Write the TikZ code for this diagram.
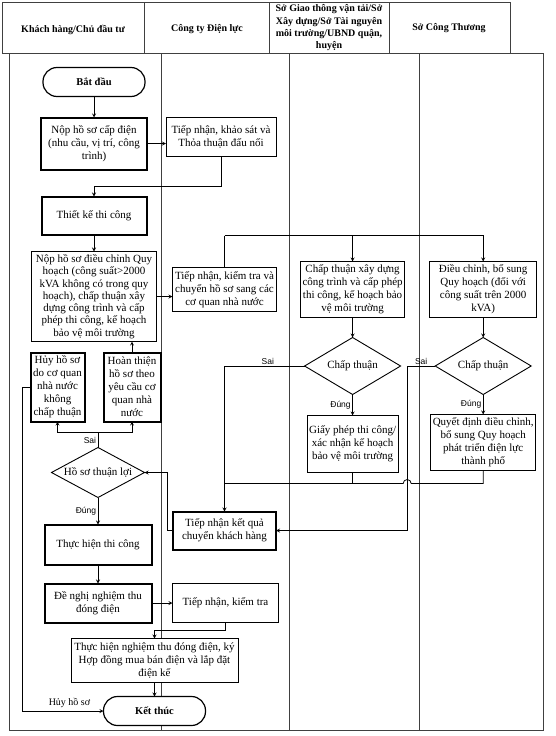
\documentclass[tikz,border=0pt]{standalone}
\usepackage{fontspec}
\setmainfont{Liberation Serif}
\newfontfamily\labelfont{Liberation Sans}
\usetikzlibrary{positioning, shapes.geometric, calc}

\begin{document}
\begin{tikzpicture}[x=1pt, y=-1pt, >=stealth,
                    every node/.style={font=\fontsize{11}{13}\selectfont},
                    stepnode/.style={rectangle, draw=black, line width=0.9pt, fill=white, align=center, inner sep=2pt, outer sep=0pt},
                    boldnode/.style={stepnode, line width=2pt},
                    endnode/.style={rectangle, rounded corners=14pt, draw=black, line width=1.2pt, fill=white, outer sep=0pt, minimum width=102pt, minimum height=29pt, font=\fontsize{10.5}{13}\selectfont\bfseries},
                    asknode/.style={diamond, aspect=1.8, draw=black, line width=0.9pt, fill=white, inner sep=0pt, outer sep=0pt},
                    headnode/.style={align=center, inner sep=0pt, font=\fontsize{10}{12.3}\selectfont\bfseries},
                    tag/.style={font=\labelfont\fontsize{8.5}{10}\selectfont, inner sep=1.5pt},
                    lane/.style={draw=black!75, line width=0.8pt},
                    flow/.style={->, line width=0.8pt}]
    \useasboundingbox (0,0) rectangle (556,736);
    % table
    \draw[lane] (2,2) rectangle (510,53);
    \foreach \x in {144,269,389} \draw[lane] (\x,2) -- (\x,53);
    \draw[lane] (9,53) rectangle (543,730);
    \foreach \x in {161,289,419} \draw[lane] (\x,53) -- (\x,730);
    \node[headnode] (head1) at (73,30)  {Khách hàng/Chủ đầu tư};
    \node[headnode] (head2) at (207,29) {Công ty Điện lực};
    \node[headnode] (head3) at (329,28) {Sở Giao thông vận tải/Sở\\Xây dựng/Sở Tài nguyên\\môi trường/UBND quận,\\huyện};
    \node[headnode] (head4) at (449,28) {Sở Công Thương};
    % nodes
    \node[endnode]                                             (start)    at (94,82)              {Bắt đầu};
    \node[boldnode, minimum width=106pt, minimum height=52pt]  (submit)   [below=21pt of start]   {Nộp hồ sơ cấp điện\\(nhu cầu, vị trí, công\\trình)};
    \node[stepnode, minimum width=110pt, minimum height=39pt]  (survey)   [right=19pt of submit.north east, anchor=north west] {Tiếp nhận, khảo sát và\\Thỏa thuận đấu nối};
    \node[boldnode, minimum width=105pt, minimum height=38pt]  (design)   [below=27pt of submit]  {Thiết kế thi công};
    \node[stepnode, minimum width=125pt, minimum height=90pt, font=\fontsize{11}{12.3}\selectfont] (plan) [below=17pt of design] {Nộp hồ sơ điều chỉnh Quy\\hoạch (công suất>2000\\kVA không có trong quy\\hoạch), chấp thuận xây\\dựng công trình và cấp\\phép thi công, kế hoạch\\bảo vệ môi trường};
    \node[stepnode, minimum width=104pt, minimum height=44pt]  (check)    [right=16pt of plan, yshift=7pt] {Tiếp nhận, kiểm tra và\\chuyển hồ sơ sang các\\cơ quan nhà nước};
    \node[stepnode, minimum width=104pt, minimum height=56pt]  (build)    [right=24pt of check]   {Chấp thuận xây dựng\\công trình và cấp phép\\thi công, kế hoạch bảo\\vệ môi trường};
    \node[stepnode, minimum width=107pt, minimum height=56pt]  (adjust)   [right=25pt of build]   {Điều chỉnh, bổ sung\\Quy hoạch (đối với\\công suất trên 2000\\kVA)};
    \node[asknode, minimum width=96pt, minimum height=57pt]    (ok1)      [below=20pt of build]   {Chấp thuận};
    \node[asknode, minimum width=96pt, minimum height=57pt]    (ok2)      [below=20pt of adjust]  {Chấp thuận};
    \node[stepnode, minimum width=90pt, minimum height=57pt]   (permit)   [below=21pt of ok1]     {Giấy phép thi công/\\xác nhận kế hoạch\\bảo vệ môi trường};
    \node[stepnode, minimum width=105pt, minimum height=56pt]  (decide)   [below=20pt of ok2]     {Quyết định điều chỉnh,\\bổ sung Quy hoạch\\phát triển điện lực\\thành phố};
    \node[boldnode, minimum width=57pt, minimum height=69pt, inner sep=1pt] (complete) [below=11pt of plan.south east, anchor=north east, xshift=4pt] {Hoàn thiện\\hồ sơ theo\\yêu cầu cơ\\quan nhà\\nước};
    \node[boldnode, minimum width=54pt, minimum height=69pt, inner sep=1pt] (cancel) [left=19pt of complete] {Hủy hồ sơ\\do cơ quan\\nhà nước\\không\\chấp thuận};
    \node[asknode, minimum width=93pt, minimum height=50pt]    (favor)    [below=106pt of plan, xshift=4pt] {Hồ sơ thuận lợi};
    \node[boldnode, minimum width=103pt, minimum height=38pt]  (result)   [below=200pt of check]  {Tiếp nhận kết quả\\chuyển khách hàng};
    \node[boldnode, minimum width=107pt, minimum height=40pt]  (work)     [below=27pt of favor]   {Thực hiện thi công};
    \node[boldnode, minimum width=107pt, minimum height=39pt]  (request)  [below=19pt of work]    {Đề nghị nghiệm thu\\đóng điện};
    \node[stepnode, minimum width=106pt, minimum height=39pt]  (inspect)  [right=21pt of request] {Tiếp nhận, kiểm tra};
    \node[stepnode, minimum width=167pt, minimum height=44pt]  (accept)   [below=16pt of request.south east, anchor=north, xshift=3pt] {Thực hiện nghiệm thu đóng điện, ký\\Hợp đồng mua bán điện và lắp đặt\\điện kế};
    \node[endnode]                                             (finish)   [below=14pt of accept]  {Kết thúc};
    % lines
    \draw[flow] (start) -- (submit);
    \draw[flow] (submit.east) -- (submit.east -| survey.west);
    \draw[flow] (survey.south) -- ++(0,30) -| (design.north);
    \draw[flow] (design) -- (plan);
    \draw[flow] (plan.east) -- (plan.east -| check.west);
    \draw[line width=0.8pt] (check.north) -- ++(0,-32) coordinate (fork);
    \draw[flow] (fork) -| (build.north);
    \draw[flow] (fork) -| (adjust.north);
    \draw[flow] (build) -- (ok1);
    \draw[flow] (adjust) -- (ok2);
    \draw[flow] (ok1.south) -- node[tag, left] {Đúng} (permit.north);
    \draw[flow] (ok2.south) -- node[tag, left] {Đúng} (decide.north);
    \draw[flow] (ok1.west) -| node[tag, pos=0.23, above] {Sai} (result.north);
    \coordinate (merge) at ($(permit.south)+(0,11)$);
    \coordinate (bend2) at ($(ok2.west)+(-28,0)$);
    \draw[line width=0.8pt] (permit.south) -- (merge);
    \draw[line width=0.8pt] (decide.south) |- ($(bend2 |- merge)+(4,0)$) arc[start angle=0, end angle=180, radius=4pt] -- (merge -| result.north);
    \draw[flow] (ok2.west) -- node[tag, above] {Sai} (bend2) |- (result.east);
    \draw[flow] (result.west) -- ++(-6,0) |- (favor.east);
    \draw[line width=0.8pt] (favor.north) -- node[tag, left] {Sai} ++(0,-15) coordinate (split);
    \draw[flow] (split) -| (cancel.south);
    \draw[flow] (split) -| (complete.south);
    \draw[flow] (complete.north) -- (complete.north |- plan.south);
    \draw[flow] (favor.south) -- node[tag, left] {Đúng} (work.north);
    \draw[flow] (work) -- (request);
    \draw[flow] (request) -- (inspect);
    \draw[flow] (inspect.south) -- ++(0,8) -| (accept.north);
    \draw[flow] (accept) -- (finish);
    \draw[flow] (cancel.west) -- ++(-8,0) |- node[pos=0.79, above, font=\fontsize{10}{12}\selectfont] {Hủy hồ sơ} (finish.west);
\end{tikzpicture}
\end{document}
